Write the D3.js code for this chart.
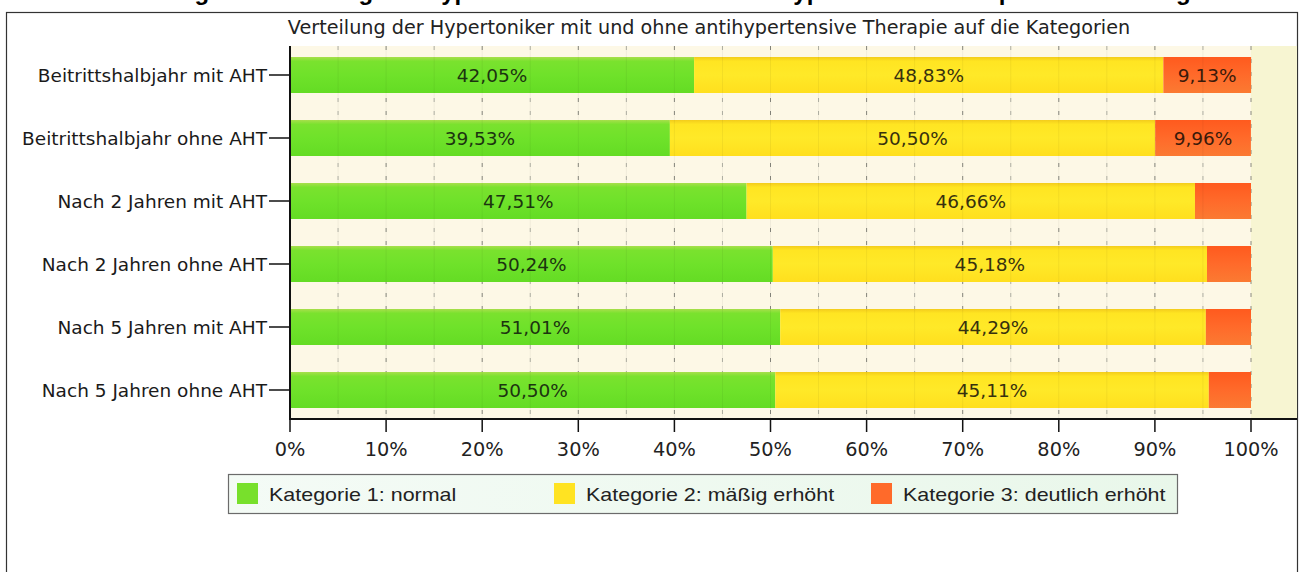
<!DOCTYPE html>
<html><head><meta charset="utf-8">
<script src="https://cdn.jsdelivr.net/npm/d3@7"></script>
<style>
html,body{margin:0;padding:0;background:#fff;}
svg{display:block;}
</style></head>
<body><svg id="c" width="1300" height="572"></svg>
<script>
const categories = ["Beitrittshalbjahr mit AHT","Beitrittshalbjahr ohne AHT","Nach 2 Jahren mit AHT","Nach 2 Jahren ohne AHT","Nach 5 Jahren mit AHT","Nach 5 Jahren ohne AHT"];
const kat1 = [42.05, 39.53, 47.51, 50.24, 51.01, 50.50];
const kat2 = [48.83, 50.50, 46.66, 45.18, 44.29, 45.11];
const kat3 = [9.13, 9.96, 5.83, 4.58, 4.70, 4.39];
const seriesNames = ["Kategorie 1: normal","Kategorie 2: mäßig erhöht","Kategorie 3: deutlich erhöht"];
const xTicks = [0,10,20,30,40,50,60,70,80,90,100];
const gridTicks = [5,10,15,20,25,30,35,40,45,50,55,60,65,70,75,80,85,90,95,100];
const chartTitle = "Verteilung der Hypertoniker mit und ohne antihypertensive Therapie auf die Kategorien";
const captionText = "Abbildung 12: Verteilung der Hypertoniker mit und ohne antihypertensive Therapie auf die Kategorien";

const svg = d3.select("#c");
const W = 1300, H = 572;
const L = 290, R = 1251, T = 46, B = 419, RE = 1297;
const loc = d3.formatLocale({decimal:",", thousands:".", grouping:[3], currency:["","€"]});
const fmt = v => loc.format(".2f")(v) + "%";

const defs = svg.append("defs");
function vgrad(id, stops){
  const g = defs.append("linearGradient").attr("id", id).attr("x1",0).attr("y1",0).attr("x2",0).attr("y2",1);
  stops.forEach(s => g.append("stop").attr("offset", s[0]).attr("stop-color", s[1]));
}
vgrad("gGreen", [[0,"#a8df4c"],[0.12,"#7ae22e"],[0.5,"#6fe22a"],[1,"#64dc24"]]);
vgrad("gYellow", [[0,"#f3cc1c"],[0.12,"#ffe522"],[0.5,"#ffe928"],[1,"#ffdf1e"]]);
vgrad("gOrange", [[0,"#ff5a1e"],[0.5,"#ff6a2a"],[1,"#fb7a32"]]);
const lg = defs.append("linearGradient").attr("id","gLegend").attr("x1",0).attr("y1",0).attr("x2",1).attr("y2",0);
lg.append("stop").attr("offset",0).attr("stop-color","#f4fbf6");
lg.append("stop").attr("offset",1).attr("stop-color","#e9f7ea");
const fills = ["url(#gGreen)","url(#gYellow)","url(#gOrange)"];
const swatch = ["#78e02c","#ffe322","#ff6a2a"];

// caption above the frame, cut by the top edge as in the original screenshot
svg.append("text").attr("x", 670).attr("y", 0).attr("text-anchor","middle")
  .attr("font-family","Liberation Sans, Arial, sans-serif").attr("font-weight","bold").attr("font-size",24)
  .attr("fill","#000").text(captionText);

// frame
svg.append("rect").attr("x",6.5).attr("y",12.5).attr("width",RE-6).attr("height",H).attr("fill","#fff").attr("stroke","#333").attr("stroke-width",1.2);

const x = d3.scaleLinear().domain([0,100]).range([L,R]);
const y = d3.scaleBand().domain(categories).range([43.5,421.5]).paddingInner(27/63).paddingOuter(27/126);

// plot backgrounds
svg.append("rect").attr("x",L).attr("y",T).attr("width",RE-L).attr("height",B-T).attr("fill","#f7f5d2");
svg.append("rect").attr("x",L).attr("y",T).attr("width",x(100)-L).attr("height",B-T).attr("fill","#fdf8e6");

// grid
svg.append("g").selectAll("line").data(gridTicks).join("line")
  .attr("x1",d=>x(d)).attr("x2",d=>x(d)).attr("y1",T).attr("y2",B)
  .attr("stroke",d=>d%10===0?"#8a8a80":"#b4b4a8").attr("stroke-width",1)
  .attr("stroke-dasharray","4,9");

// stacked data
const rows = categories.map((c,i)=>({cat:c, k1:kat1[i], k2:kat2[i], k3:kat3[i]}));
const stack = d3.stack().keys(["k1","k2","k3"])(rows);

const gBars = svg.append("g");
stack.forEach((layer,si)=>{
  gBars.append("g").selectAll("rect").data(layer).join("rect")
    .attr("x",d=>x(d[0])).attr("width",d=>x(d[1])-x(d[0]))
    .attr("y",d=>y(d.data.cat)).attr("height",y.bandwidth())
    .attr("fill",fills[si]);
});
// faint grid through bars
svg.append("g").selectAll("line").data(gridTicks.filter(d=>d<100)).join("line")
  .attr("x1",d=>x(d)).attr("x2",d=>x(d)).attr("y1",T).attr("y2",B)
  .attr("stroke","#000").attr("stroke-opacity",0.05).attr("stroke-width",1);

// labels
const labelFont = "DejaVu Sans, Verdana, sans-serif";
stack.forEach((layer,si)=>{
  const g = gBars.append("g");
  layer.forEach(d=>{
    const v = d[1]-d[0];
    const t = g.append("text")
      .attr("x",(x(d[0])+x(d[1]))/2).attr("y",y(d.data.cat)+y.bandwidth()/2)
      .attr("dy","0.36em").attr("text-anchor","middle")
      .attr("font-family",labelFont).attr("font-size",18.5)
      .attr("fill", si===0?"#1c3410": si===1?"#37310e":"#3a1a0a")
      .text(fmt(v));
    const w = t.node().getComputedTextLength();
    if (w + 8 > x(d[1])-x(d[0])) t.remove();
  });
});

// axes
const ax = svg.append("g").attr("font-family",labelFont).attr("fill","#222");
ax.append("line").attr("x1",L).attr("x2",L).attr("y1",T).attr("y2",B+1).attr("stroke","#111").attr("stroke-width",2);
ax.append("line").attr("x1",L-1).attr("x2",RE).attr("y1",B).attr("y2",B).attr("stroke","#111").attr("stroke-width",2);
categories.forEach(c=>{
  const cy = y(c)+y.bandwidth()/2;
  ax.append("line").attr("x1",L-21).attr("x2",L).attr("y1",cy).attr("y2",cy).attr("stroke","#111").attr("stroke-width",1.5);
  ax.append("text").attr("x",L-23).attr("y",cy).attr("dy","0.36em").attr("text-anchor","end")
    .attr("font-size",18.5).attr("fill","#1a1a1a").text(c);
});
xTicks.forEach(t=>{
  ax.append("line").attr("x1",x(t)).attr("x2",x(t)).attr("y1",B).attr("y2",B+13).attr("stroke","#111").attr("stroke-width",1.5);
  ax.append("text").attr("x",x(t)).attr("y",449).attr("dy","0.36em").attr("text-anchor","middle")
    .attr("font-size",19.3).attr("fill","#222").text(t+"%");
});

// subtitle
svg.append("text").attr("x",709).attr("y",27).attr("dy","0.36em").attr("text-anchor","middle")
  .attr("font-family",labelFont).attr("font-size",19.2).attr("fill","#222")
  .text(chartTitle);

// legend
const leg = svg.append("g");
leg.append("rect").attr("x",228.5).attr("y",474.5).attr("width",949).attr("height",39)
  .attr("fill","url(#gLegend)").attr("stroke","#6b6b6b").attr("stroke-width",1.2);
const legX = [237, 554, 871];
seriesNames.forEach((n,i)=>{
  leg.append("rect").attr("x",legX[i]).attr("y",483).attr("width",21).attr("height",21).attr("fill",swatch[i]);
  const tx = legX[i]+32;
  leg.append("text").attr("x",0).attr("y",0)
    .attr("transform",`translate(${tx},500.5) scale(1.13,1)`)
    .attr("font-family","Liberation Sans, Arial, sans-serif").attr("font-size",19).attr("fill","#222")
    .text(n);
});
</script></body></html>
